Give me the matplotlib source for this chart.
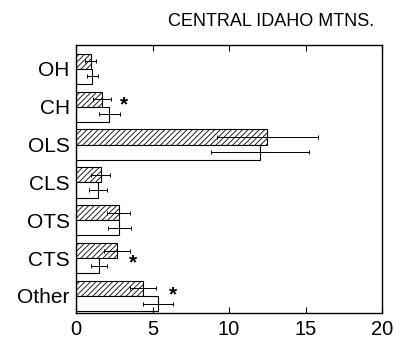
import matplotlib.pyplot as plt
import numpy as np

plt.rcParams['font.family'] = ['Liberation Sans', 'DejaVu Sans']
plt.rcParams['hatch.linewidth'] = 0.6

categories = ["OH", "CH", "OLS", "CLS", "OTS", "CTS", "Other"]
hatched_vals = [0.95, 1.72, 12.5, 1.61, 2.79, 2.70, 4.36]
hatched_err = [0.35, 0.6, 3.3, 0.6, 0.74, 0.84, 0.85]
open_vals = [1.07, 2.18, 12.0, 1.42, 2.83, 1.5, 5.38]
open_err = [0.36, 0.7, 3.2, 0.6, 0.76, 0.5, 0.98]
# significance markers: category, x position
star_cats = ["CH", "CTS", "Other"]
star_x = [3.14, 3.7, 6.34]

fig = plt.figure(figsize=(4.04, 3.46), dpi=100)
ax = fig.add_axes([76 / 404, 1 - 313 / 346, (382 - 76) / 404, (313 - 45) / 346])

y = np.arange(len(categories))
h = 0.4
ax.barh(y - h / 2, hatched_vals, height=h, color="white", edgecolor="black",
        hatch="//////", linewidth=0.8)
ax.barh(y + h / 2, open_vals, height=h, color="white", edgecolor="black",
        linewidth=0.8)
ax.errorbar(hatched_vals, y - h / 2, xerr=hatched_err, fmt="none", ecolor="black",
            elinewidth=0.7, capsize=1.5, capthick=0.7)
ax.errorbar(open_vals, y + h / 2, xerr=open_err, fmt="none", ecolor="black",
            elinewidth=0.7, capsize=1.5, capthick=0.7)

star_dy = {"CH": -0.17, "CTS": 0.0, "Other": -0.15}
for cat, xs in zip(star_cats, star_x):
    i = categories.index(cat)
    ax.text(xs, i + star_dy[cat] + 0.12, "*", fontsize=15, fontweight="bold",
            ha="center", va="center")

ax.set_xlim(0, 20)
ax.set_ylim(6.45, -0.63)
ax.set_yticks(y)
ax.set_yticklabels(categories, fontsize=15)
ax.set_xticks([0, 5, 10, 15, 20])
ax.tick_params(axis="x", direction="in", top=True, labelsize=14.5, length=4, pad=5)
ax.tick_params(axis="y", length=0, pad=4.5)
for s in ax.spines.values():
    s.set_linewidth(1.0)

fig.text(271 / 404, 1 - 22 / 346, "CENTRAL IDAHO MTNS.", fontsize=13,
         ha="center", va="center")

fig.savefig("out.png", dpi=100)
